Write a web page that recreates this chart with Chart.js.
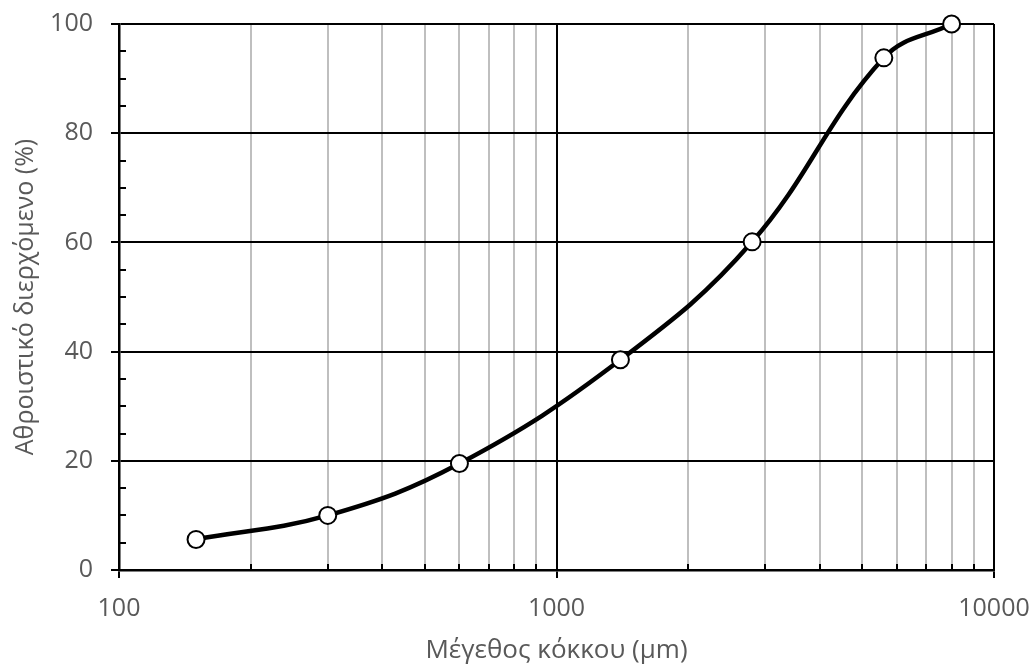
<!DOCTYPE html>
<html>
<head>
<meta charset="utf-8">
<script src="https://cdn.jsdelivr.net/npm/chart.js@4.4.1/dist/chart.umd.min.js"></script>
<style>
html,body{margin:0;padding:0;background:#fff;}
#wrap{width:1035px;height:666px;position:relative;}
</style>
</head>
<body>
<div id="wrap"><canvas id="c"></canvas></div>
<script>
// Data
const grainSizes = [150, 300, 600, 1400, 2800, 5600, 8000];
const cumulativePassing = [5.6, 10, 19.5, 38.5, 60.1, 93.8, 100];
const xMajorTicks = [100, 1000, 10000];
const xTickValues = [100,200,300,400,500,600,700,800,900,1000,2000,3000,4000,5000,6000,7000,8000,9000,10000];
const yMajorTicks = [0, 20, 40, 60, 80, 100];
const xTitle = 'Μέγεθος κόκκου (μm)';
const yTitle = 'Αθροιστικό διερχόμενο (%)';

const FONT = "'Open Sans', sans-serif";
const TXT = '#595959';

const minorTicks = {
  id: 'minorTicks',
  beforeDatasetsDraw(chart) {
    const {ctx, chartArea} = chart;
    const xs = chart.scales.x, ys = chart.scales.y;
    ctx.save();
    ctx.strokeStyle = '#000';
    ctx.lineWidth = 2;
    ctx.beginPath();
    xTickValues.forEach(v => {
      if (xMajorTicks.includes(v)) return;
      const px = Math.round(xs.getPixelForValue(v));
      ctx.moveTo(px, chartArea.bottom);
      ctx.lineTo(px, chartArea.bottom - 6);
    });
    for (let v = 5; v < 100; v += 5) {
      if (yMajorTicks.includes(v)) continue;
      const py = Math.round(ys.getPixelForValue(v));
      ctx.moveTo(chartArea.left, py);
      ctx.lineTo(chartArea.left + 7, py);
    }
    ctx.stroke();
    ctx.restore();
  }
};

new Chart(document.getElementById('c'), {
  type: 'line',
  data: {
    datasets: [{
      data: grainSizes.map((x, i) => ({x, y: cumulativePassing[i]})),
      borderColor: '#000',
      borderWidth: 4.5,
      tension: 0.4,
      pointRadius: 8.5,
      pointBorderWidth: 2,
      pointBackgroundColor: '#fff',
      pointBorderColor: '#000',
      clip: false
    }]
  },
  plugins: [minorTicks],
  options: {
    responsive: true,
    maintainAspectRatio: false,
    animation: false,
    layout: {padding: {top: 24, right: 41, left: 0, bottom: 0}},
    plugins: {legend: {display: false}, tooltip: {enabled: false}},
    scales: {
      x: {
        type: 'logarithmic',
        min: 100, max: 10000,
        afterBuildTicks: s => { s.ticks = xTickValues.map(v => ({value: v})); },
        afterFit: s => { s.height = 96; s.paddingLeft = 0; s.paddingRight = 0; },
        border: {display: true, color: '#000', width: 2.5},
        grid: {
          color: c => xMajorTicks.includes(c.tick.value) ? '#000' : '#bfbfbf',
          lineWidth: 2,
          tickColor: c => xMajorTicks.includes(c.tick.value) ? '#000' : 'rgba(0,0,0,0)',
          tickLength: 8,
          tickWidth: 2
        },
        ticks: {
          autoSkip: false, maxRotation: 0, padding: 16,
          color: TXT, font: {family: FONT, size: 25},
          callback: v => xMajorTicks.includes(v) ? String(v) : ''
        },
        title: {display: true, text: xTitle, color: TXT, font: {family: FONT, size: 26}, padding: {top: 0, bottom: 0}}
      },
      y: {
        min: 0, max: 100,
        afterBuildTicks: s => { s.ticks = yMajorTicks.map(v => ({value: v})); },
        afterFit: s => { s.width = 119; s.paddingTop = 0; s.paddingBottom = 0; },
        border: {display: true, color: '#000', width: 2.5},
        grid: {
          color: '#000', lineWidth: 2,
          tickColor: '#000', tickLength: 8, tickWidth: 2
        },
        ticks: {
          padding: 18,
          color: TXT, font: {family: FONT, size: 25}
        },
        title: {display: true, text: yTitle, color: TXT, font: {family: FONT, size: 25}, padding: {top: 11, bottom: 0}}
      }
    }
  }
});
</script>
</body>
</html>
